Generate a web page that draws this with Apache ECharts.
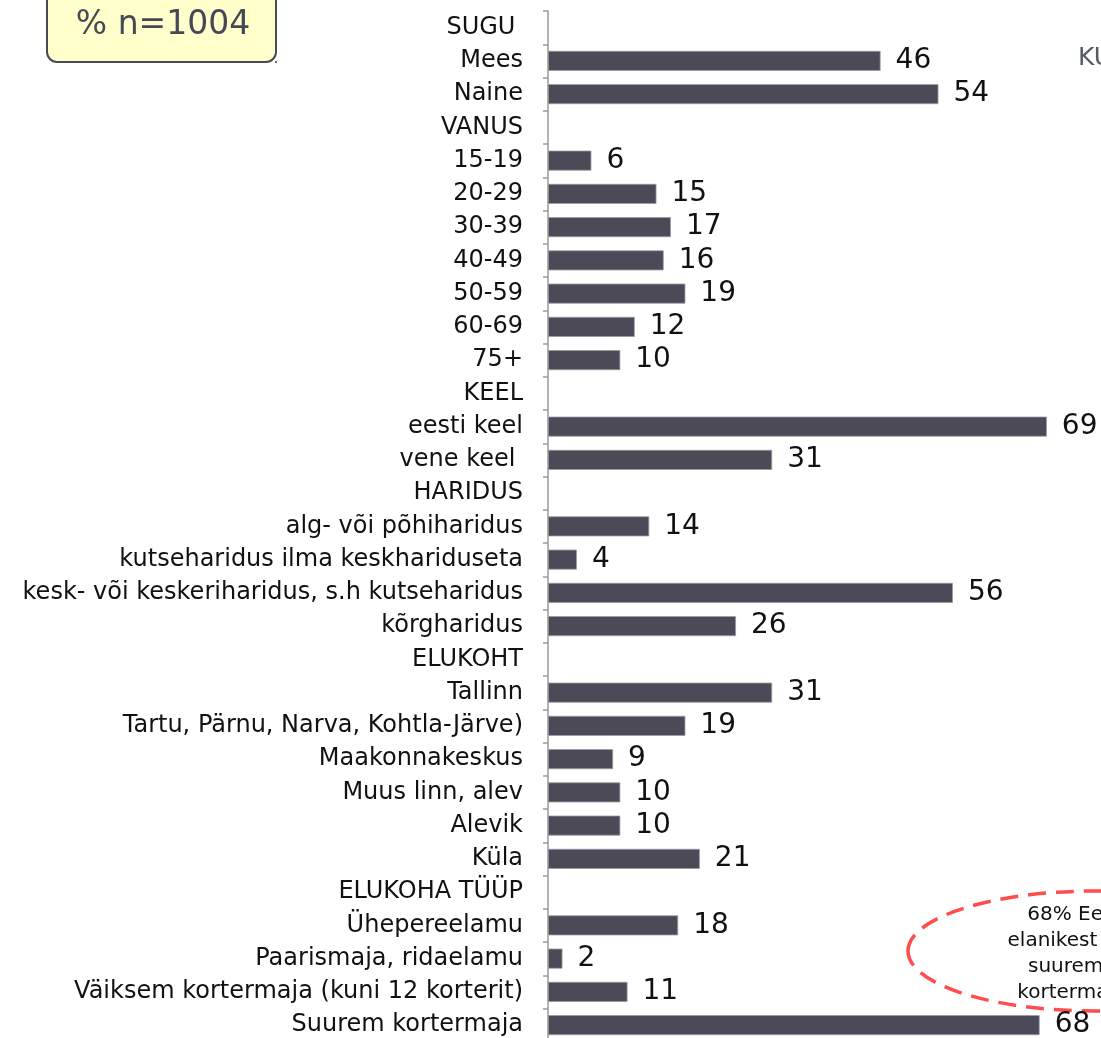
<!DOCTYPE html>
<html>
<head>
<meta charset="utf-8">
<script src="https://cdn.jsdelivr.net/npm/echarts@6/dist/echarts.min.js"></script>
<style>
  html, body { margin: 0; padding: 0; background: #fff; overflow: hidden; }
  #chart { width: 1101px; height: 1038px; }
</style>
</head>
<body>
<div id="chart"></div>
<script>
// group headers carry no value ('-'), they only take up a row
const categories = [
  'SUGU ', 'Mees', 'Naine',
  'VANUS', '15-19', '20-29', '30-39', '40-49', '50-59', '60-69', '75+',
  'KEEL', 'eesti keel', 'vene keel ',
  'HARIDUS', 'alg- või põhiharidus', 'kutseharidus ilma keskhariduseta',
  'kesk- või keskeriharidus, s.h kutseharidus', 'kõrgharidus',
  'ELUKOHT', 'Tallinn', 'Tartu, Pärnu, Narva, Kohtla-Järve)', 'Maakonnakeskus',
  'Muus linn, alev', 'Alevik', 'Küla',
  'ELUKOHA TÜÜP', 'Ühepereelamu', 'Paarismaja, ridaelamu',
  'Väiksem kortermaja (kuni 12 korterit)', 'Suurem kortermaja'
]
const shares = [
  '-', 46, 54,
  '-', 6, 15, 17, 16, 19, 12, 10,
  '-', 69, 31,
  '-', 14, 4, 56, 26,
  '-', 31, 19, 9, 10, 10, 21,
  '-', 18, 2, 11, 68
]
const sampleNote = '% n=1004'
const calloutLines = ['68% Eesti', 'elanikest elab', 'suuremas', 'kortermajas']

const FONT = '"DejaVu Sans", Verdana, sans-serif'
const ROW = 33.25

const chart = echarts.init(document.getElementById('chart'), null, { renderer: 'canvas' })

chart.setOption({
  backgroundColor: '#ffffff',
  animation: false,
  grid: {
    left: 548,
    top: 11,
    width: 723,
    height: ROW * categories.length,
    containLabel: false,
    outerBoundsMode: 'none'
  },
  xAxis: {
    type: 'value',
    min: 0,
    max: 100,
    show: false
  },
  yAxis: {
    type: 'category',
    inverse: true,
    data: categories,
    axisLine: { show: true, lineStyle: { color: '#9a9a9a', width: 1.5 } },
    axisTick: { show: true, length: 5, lineStyle: { color: '#9a9a9a', width: 1.5 } },
    axisLabel: {
      color: '#111',
      fontSize: 24,
      fontFamily: FONT,
      margin: 25,
      interval: 0
    },
    splitLine: { show: false }
  },
  series: [
    {
      name: 'Osakaal',
      type: 'bar',
      data: shares,
      barWidth: 20,
      itemStyle: { color: '#4b4a56', borderColor: '#9a9aa2', borderWidth: 0.8 },
      label: {
        show: true,
        position: 'right',
        distance: 15,
        color: '#111',
        fontSize: 28,
        fontFamily: FONT
      }
    }
  ],
  graphic: [
    {
      type: 'rect',
      shape: { x: 47, y: -20, width: 229, height: 82, r: 10 },
      style: { fill: '#ffffcc', stroke: '#4a4a55', lineWidth: 2 }
    },
    {
      type: 'text',
      x: 163,
      y: 25,
      style: {
        text: sampleNote,
        fill: '#444a55',
        fontSize: 33,
        fontFamily: FONT,
        align: 'center',
        verticalAlign: 'middle'
      }
    },
    {
      type: 'circle',
      shape: { cx: 276, cy: 62, r: 1 },
      style: { fill: '#333' }
    },
    {
      type: 'text',
      x: 1078,
      y: 58,
      style: {
        text: 'KU',
        fill: '#555a66',
        fontSize: 25,
        fontFamily: FONT,
        align: 'left',
        verticalAlign: 'middle'
      }
    },
    {
      type: 'ellipse',
      shape: { cx: 1095, cy: 951, rx: 187, ry: 60 },
      style: { fill: 'none', stroke: '#ff4c4c', lineWidth: 3.5, lineDash: [18, 10] }
    },
    {
      type: 'text',
      x: 1077,
      y: 954,
      style: {
        text: calloutLines.join('\n'),
        fill: '#111',
        fontSize: 20,
        lineHeight: 26,
        fontFamily: FONT,
        align: 'center',
        verticalAlign: 'middle'
      }
    }
  ]
})
</script>
</body>
</html>
